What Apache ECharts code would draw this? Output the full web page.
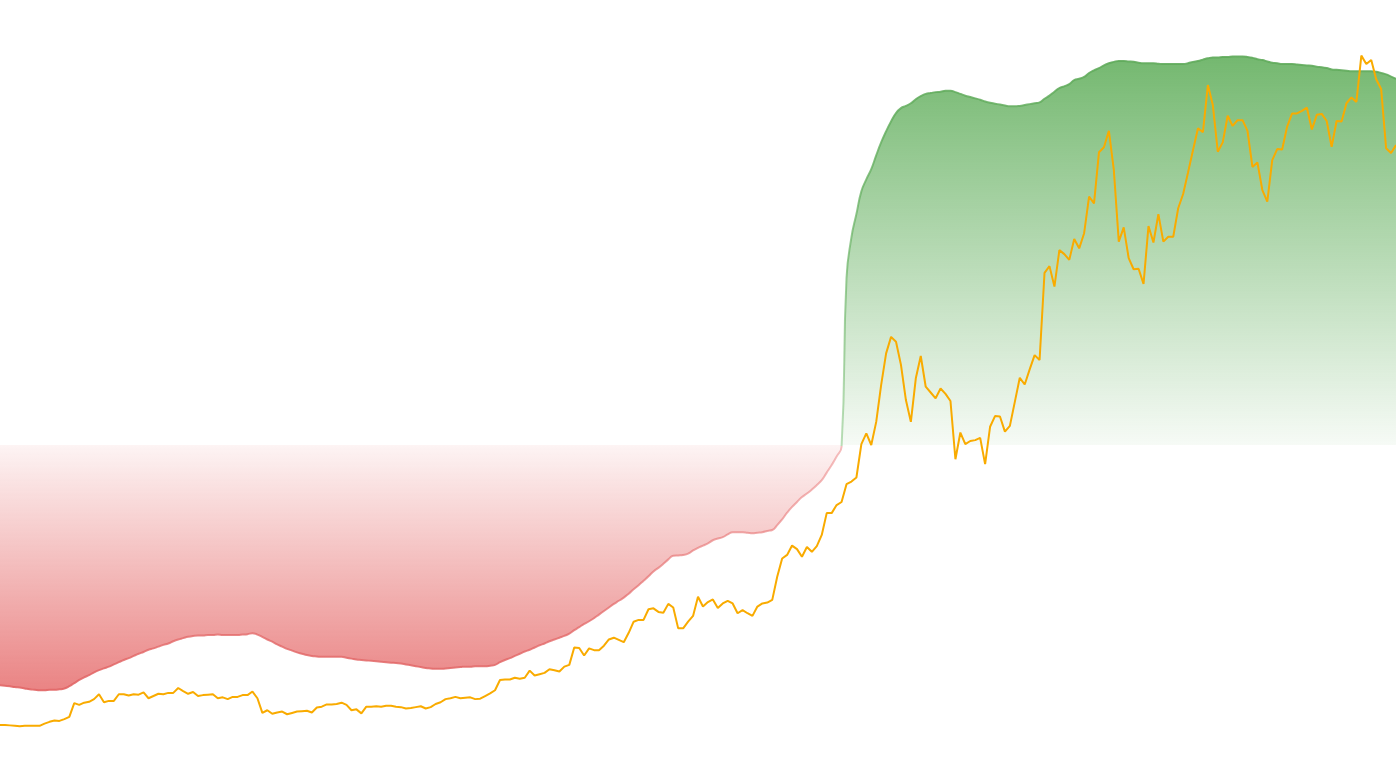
<!DOCTYPE html>
<html lang="en">
<head>
   <meta charset="utf-8">
   <title>Spread vs price</title>
   <script src="https://cdn.jsdelivr.net/npm/echarts@6/dist/echarts.min.js"></script>
   <style>
      html, body { margin: 0; padding: 0; background: #fff; }
      #chart { width: 1396px; height: 777px; }
   </style>
</head>
<body>
   <div id="chart"></div>
   <script>
      // smoothed band (red below zero, green above)
      var bandValues = [
         -54.0,-54.1,-54.2,-54.4,-54.5,-54.7,-54.9,-55.0,-55.1,-55.1,
         -55.0,-55.0,-54.9,-54.7,-54.2,-53.5,-52.8,-52.2,-51.7,-51.1,
         -50.6,-50.2,-49.8,-49.3,-48.8,-48.3,-47.9,-47.4,-46.9,-46.5,
         -46.0,-45.7,-45.3,-44.9,-44.6,-44.1,-43.7,-43.4,-43.1,-42.9,
         -42.8,-42.8,-42.7,-42.7,-42.6,-42.7,-42.7,-42.7,-42.7,-42.6,
         -42.5,-42.3,-42.6,-43.1,-43.7,-44.2,-44.8,-45.3,-45.8,-46.2,
         -46.6,-46.9,-47.2,-47.4,-47.5,-47.6,-47.6,-47.6,-47.6,-47.6,
         -47.8,-48.0,-48.2,-48.3,-48.4,-48.5,-48.6,-48.7,-48.8,-48.9,
         -49.0,-49.1,-49.3,-49.5,-49.7,-49.9,-50.1,-50.2,-50.3,-50.3,
         -50.2,-50.1,-50.0,-49.9,-49.8,-49.8,-49.7,-49.7,-49.7,-49.6,
         -49.4,-48.8,-48.3,-47.9,-47.4,-46.9,-46.4,-46.0,-45.5,-45.0,
         -44.6,-44.1,-43.7,-43.3,-42.9,-42.4,-41.6,-40.9,-40.2,-39.6,
         -38.9,-38.1,-37.3,-36.5,-35.7,-35.0,-34.3,-33.4,-32.4,-31.5,
         -30.5,-29.5,-28.4,-27.6,-26.7,-25.7,-24.9,-24.8,-24.7,-24.4,
         -23.7,-23.1,-22.6,-22.1,-21.4,-21.0,-20.7,-20.1,-19.6,-19.6,
         -19.6,-19.7,-19.8,-19.7,-19.6,-19.3,-19.1,-18.0,-16.7,-15.2,
         -13.9,-12.8,-11.7,-10.9,-10.0,-9.0,-7.9,-6.2,-4.5,-2.6,
         -0.4,37.5,46.7,51.9,57.0,59.7,62.0,65.1,68.0,70.5,
         72.7,74.6,75.7,76.2,76.8,77.7,78.4,78.9,79.1,79.3,
         79.4,79.6,79.6,79.3,78.9,78.5,78.2,77.9,77.6,77.2,
         76.9,76.7,76.5,76.3,76.1,76.1,76.2,76.4,76.6,76.8,
         77.0,77.8,78.5,79.4,80.2,80.6,81.1,82.0,82.3,82.7,
         83.6,84.2,84.7,85.3,85.8,86.1,86.3,86.3,86.2,86.1,
         85.9,85.8,85.8,85.8,85.7,85.6,85.6,85.6,85.6,85.6,
         85.8,86.1,86.3,86.6,86.9,87.1,87.1,87.2,87.2,87.3,
         87.3,87.3,87.2,87.0,86.7,86.5,86.2,85.9,85.8,85.6,
         85.6,85.6,85.5,85.4,85.3,85.2,85.0,84.9,84.7,84.4,
         84.3,84.2,84.1,84.0,84.0,84.0,84.0,84.0,83.9,83.6,
         83.3,82.8,82.3
      ];

      // orange series
      var priceValues = [
         -62.9,-62.9,-63.0,-63.1,-63.2,-63.1,-63.1,-63.1,-63.1,-62.6,
         -62.2,-61.9,-62.0,-61.6,-61.1,-58.0,-58.4,-57.9,-57.7,-57.1,
         -56.0,-57.8,-57.5,-57.5,-56.0,-56.0,-56.3,-56.0,-56.1,-55.6,
         -56.9,-56.4,-55.9,-56.0,-55.7,-55.7,-54.6,-55.3,-55.9,-55.5,
         -56.4,-56.2,-56.1,-56.0,-56.9,-56.7,-57.1,-56.6,-56.6,-56.2,
         -56.2,-55.4,-56.9,-60.2,-59.6,-60.4,-60.1,-59.9,-60.5,-60.2,
         -59.9,-59.8,-59.7,-60.1,-59.0,-58.8,-58.3,-58.3,-58.2,-57.9,
         -58.4,-59.6,-59.4,-60.3,-58.8,-58.8,-58.7,-58.8,-58.6,-58.6,
         -58.8,-58.9,-59.2,-59.1,-58.9,-58.7,-59.2,-58.9,-58.2,-57.8,
         -57.1,-56.9,-56.6,-56.9,-56.8,-56.7,-57.1,-57.0,-56.4,-55.8,
         -55.1,-52.8,-52.7,-52.7,-52.3,-52.5,-52.3,-50.7,-51.8,-51.5,
         -51.2,-50.4,-50.6,-50.9,-49.8,-49.4,-45.5,-45.6,-47.3,-45.7,
         -46.1,-46.1,-45.1,-43.7,-43.3,-43.8,-44.3,-42.2,-39.7,-39.3,
         -39.3,-36.9,-36.7,-37.5,-37.7,-35.7,-36.5,-41.2,-41.2,-39.7,
         -38.4,-34.1,-36.3,-35.3,-34.7,-36.6,-35.6,-35.0,-35.6,-37.8,
         -37.1,-37.8,-38.4,-36.3,-35.6,-35.4,-34.8,-29.6,-25.5,-24.7,
         -22.6,-23.4,-25.1,-22.9,-24.0,-22.7,-20.2,-15.3,-15.3,-13.5,
         -12.8,-8.8,-8.2,-7.3,0.2,2.6,0.0,5.2,13.5,20.6,
         24.3,23.2,18.0,10.1,5.2,15.0,20.0,13.1,11.8,10.5,
         12.7,11.5,9.9,-3.2,2.8,0.2,0.9,1.1,1.6,-4.3,
         4.1,6.5,6.4,3.0,4.3,9.7,15.1,13.6,17.0,20.2,
         19.1,38.7,40.2,35.6,43.8,42.9,41.6,46.3,44.2,47.6,
         55.8,54.3,65.8,66.9,70.6,61.8,45.7,48.9,42.0,39.5,
         39.6,36.2,49.2,45.5,51.9,45.7,46.8,46.8,53.2,56.4,
         61.3,66.3,71.2,70.3,80.9,76.4,65.9,68.0,74.0,71.7,
         73.0,73.0,70.6,62.5,63.5,57.3,54.7,64.0,66.5,66.4,
         71.5,74.5,74.5,75.1,75.8,70.9,74.2,74.4,72.8,67.0,
         72.8,72.7,76.8,78.1,77.1,87.5,85.6,86.5,82.2,80.0,
         66.7,65.6,67.4
      ];

      var periods = bandValues.map(function(v, i) { return 'P' + (i + 1); });

      var yMin = -74.6;
      var yMax = 100;

      var myChart = echarts.init(document.getElementById('chart'), null, { renderer: 'canvas' });

      // where zero sits inside the band's bounding box (0 = top, 1 = bottom)
      var bandTop = Math.max.apply(null, bandValues);
      var bandBottom = Math.min.apply(null, bandValues);
      var zeroAt = bandTop / (bandTop - bandBottom);

      var areaFill = new echarts.graphic.LinearGradient(0, 0, 0, 1, [
         { offset: 0, color: 'rgba(104,178,99,0.92)' },
         { offset: zeroAt, color: 'rgba(104,178,99,0.06)' },
         { offset: zeroAt, color: 'rgba(230,110,110,0.08)' },
         { offset: 1, color: 'rgba(230,110,110,0.85)' }
      ]);
      var bandLine = new echarts.graphic.LinearGradient(0, 0, 0, 1, [
         { offset: 0, color: 'rgba(95,170,90,0.9)' },
         { offset: zeroAt, color: 'rgba(120,190,115,0.5)' },
         { offset: zeroAt, color: 'rgba(235,130,130,0.5)' },
         { offset: 1, color: 'rgba(225,100,100,0.9)' }
      ]);

      var option = {
         animation: false,
         grid: { left: 0, right: 0, top: 0, bottom: 0 },
         xAxis: {
            type: 'category',
            data: periods,
            boundaryGap: false,
            show: false
         },
         yAxis: {
            type: 'value',
            min: yMin,
            max: yMax,
            show: false,
            splitLine: { show: false }
         },
         series: [
            {
               name: 'band',
               type: 'line',
               data: bandValues,
               smooth: true,
               showSymbol: false,
               lineStyle: { width: 2, color: bandLine },
               areaStyle: { color: areaFill, opacity: 1 },
               z: 1
            },
            {
               name: 'price',
               type: 'line',
               data: priceValues,
               showSymbol: false,
               lineStyle: { width: 2, color: '#f9ab00' },
               itemStyle: { color: '#f9ab00' },
               z: 2
            }
         ]
      };

      myChart.setOption(option);
   </script>
</body>
</html>
